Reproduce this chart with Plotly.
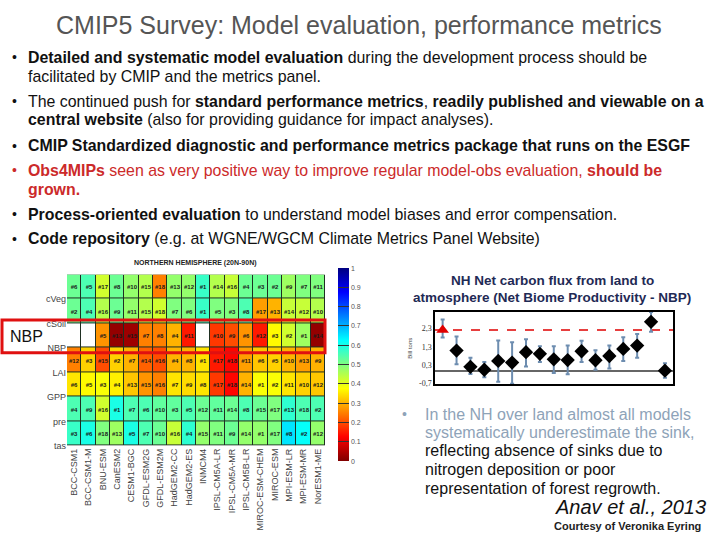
import plotly.graph_objects as go

# ---------------- data ----------------
models = ["BCC-CSM1", "BCC-CSM1-M", "BNU-ESM", "CanESM2", "CESM1-BGC", "GFDL-ESM2G",
          "GFDL-ESM2M", "HadGEM2-CC", "HadGEM2-ES", "INMCM4", "IPSL-CM5A-LR", "IPSL-CM5A-MR",
          "IPSL-CM5B-LR", "MIROC-ESM-CHEM", "MIROC-ESM", "MPI-ESM-LR", "MPI-ESM-MR", "NorESM1-ME"]
variables = ["cVeg", "cSoil", "NBP", "LAI", "GPP", "pre", "tas"]

score_cveg = [0.52, 0.55, 0.42, 0.52, 0.48, 0.45, 0.25, 0.48, 0.48, 0.57, 0.45, 0.43, 0.52, 0.52, 0.52, 0.47, 0.50, 0.50]
score_csoil = [0.52, 0.55, 0.45, 0.52, 0.48, 0.45, 0.42, 0.50, 0.50, 0.57, 0.50, 0.50, 0.55, 0.28, 0.30, 0.43, 0.43, 0.45]
score_nbp = [None, None, 0.27, 0.02, 0.03, 0.25, 0.25, 0.30, 0.15, None, 0.18, 0.20, 0.27, 0.15, 0.37, 0.42, 0.47, 0.02]
score_lai = [0.25, 0.33, 0.20, 0.33, 0.30, 0.22, 0.20, 0.30, 0.30, 0.35, 0.15, 0.13, 0.28, 0.32, 0.33, 0.30, 0.28, 0.30]
score_gpp = [0.35, 0.37, 0.38, 0.36, 0.32, 0.27, 0.25, 0.35, 0.34, 0.35, 0.18, 0.13, 0.30, 0.38, 0.38, 0.35, 0.33, 0.32]
score_pre = [0.55, 0.55, 0.42, 0.60, 0.55, 0.55, 0.53, 0.53, 0.55, 0.52, 0.53, 0.52, 0.55, 0.52, 0.50, 0.58, 0.55, 0.55]
score_tas = [0.57, 0.60, 0.50, 0.47, 0.60, 0.55, 0.52, 0.43, 0.58, 0.48, 0.50, 0.52, 0.48, 0.48, 0.50, 0.65, 0.62, 0.48]

rank_cveg = ["#6", "#5", "#17", "#8", "#10", "#15", "#18", "#13", "#12", "#1", "#14", "#16", "#4", "#3", "#2", "#9", "#7", "#11"]
rank_csoil = ["#2", "#4", "#16", "#9", "#11", "#15", "#18", "#7", "#6", "#1", "#5", "#3", "#8", "#17", "#13", "#14", "#12", "#10"]
rank_nbp = ["", "", "#5", "#13", "#15", "#7", "#8", "#4", "#11", "", "#10", "#9", "#6", "#12", "#3", "#2", "#1", "#14"]
rank_lai = ["#12", "#3", "#15", "#2", "#7", "#14", "#16", "#4", "#8", "#1", "#17", "#18", "#11", "#6", "#5", "#10", "#13", "#9"]
rank_gpp = ["#6", "#5", "#3", "#4", "#13", "#15", "#16", "#7", "#9", "#8", "#17", "#18", "#14", "#1", "#2", "#11", "#10", "#12"]
rank_pre = ["#4", "#9", "#16", "#1", "#7", "#6", "#10", "#3", "#5", "#12", "#11", "#14", "#8", "#15", "#17", "#13", "#18", "#2"]
rank_tas = ["#3", "#6", "#18", "#13", "#5", "#7", "#10", "#16", "#4", "#15", "#11", "#9", "#14", "#1", "#17", "#8", "#2", "#12"]

cbar_ticks = [0, 0.1, 0.2, 0.3, 0.4, 0.5, 0.6, 0.7, 0.8, 0.9, 1]

# NBP scatter (obs + 16 models)
obs_nbp = 2.22
obs_hi = 2.79
obs_lo = 1.81
nbp_mean = [1.10, 0.21, 0.05, 0.53, 0.44, 1.01, 0.92, 0.62, 0.58, 1.06, 0.57, 0.80, 1.19, 1.37, 2.67, 0.00]
nbp_hi = [1.87, 0.71, 0.48, 1.65, 1.55, 1.72, 1.33, 1.33, 1.37, 1.64, 1.12, 1.37, 1.83, 2.00, 3.20, 0.41]
nbp_lo = [0.35, -0.18, -0.36, -0.60, -0.72, 0.23, 0.48, -0.13, -0.20, 0.48, 0.05, 0.12, 0.53, 0.71, 2.13, -0.38]
nbp_ticks = [-0.7, 0.3, 1.3, 2.3]
nbp_ticktext = ["-0,7", "0,3", "1,3", "2,3"]

# ---------------- figure ----------------
W, H = 720, 540
def px(x):
    return x / W
def py(y):
    return 1 - y / H

z = [score_cveg, score_csoil, score_nbp, score_lai, score_gpp, score_pre, score_tas]
ranks = [rank_cveg, rank_csoil, rank_nbp, rank_lai, rank_gpp, rank_pre, rank_tas]
rows = list(range(len(variables)))
cols = list(range(len(models)))

jet_r = [[0.0, "rgb(128,0,0)"], [0.125, "rgb(255,0,0)"], [0.375, "rgb(255,255,0)"],
         [0.5, "rgb(128,255,128)"], [0.625, "rgb(0,255,255)"], [0.875, "rgb(0,0,255)"],
         [1.0, "rgb(0,0,128)"]]

fig = go.Figure()

# dark base layer (cell borders)
fig.add_trace(go.Heatmap(
    x=cols, y=rows, z=[[1] * len(models) for _ in rows],
    colorscale=[[0, "#1f2f22"], [1, "#1f2f22"]], showscale=False, hoverinfo="skip",
    xaxis="x", yaxis="y"))

fig.add_trace(go.Heatmap(
    x=cols, y=rows, z=z, text=ranks, texttemplate="<b>%{text}</b>",
    textfont=dict(size=6, color="#1a1a1a", family="Liberation Sans"),
    colorscale=jet_r, zmin=0, zmax=1, xgap=1, ygap=1,
    colorbar=dict(x=px(338), xanchor="left", xpad=0, ypad=0, y=py(368), yanchor="middle",
                  len=195 / H, lenmode="fraction", thickness=11, outlinewidth=0,
                  tickvals=cbar_ticks, ticktext=[str(t) for t in cbar_ticks],
                  ticks="inside", ticklen=11, tickcolor="#333",
                  tickfont=dict(size=7, color="#555", family="Liberation Sans")),
    xaxis="x", yaxis="y"))

# missing cells shown white
missing = [[1 if v is None else None for v in row] for row in z]
fig.add_trace(go.Heatmap(
    x=cols, y=rows, z=missing, colorscale=[[0, "white"], [1, "white"]],
    showscale=False, xgap=1, ygap=1, hoverinfo="skip", xaxis="x", yaxis="y"))

# NBP scatter
xi = list(range(1, len(nbp_mean) + 1))
fig.add_trace(go.Scatter(
    x=[0], y=[obs_nbp], mode="markers",
    marker=dict(symbol="triangle-up", size=11, color="#e00000"),
    error_y=dict(type="data", symmetric=False, array=[obs_hi - obs_nbp],
                 arrayminus=[obs_nbp - obs_lo], color="#6d8db0", thickness=2, width=2),
    xaxis="x2", yaxis="y2", showlegend=False))
fig.add_trace(go.Scatter(
    x=xi, y=nbp_mean, mode="markers",
    marker=dict(symbol="diamond", size=11, color="black"),
    error_y=dict(type="data", symmetric=False,
                 array=[h - m for h, m in zip(nbp_hi, nbp_mean)],
                 arrayminus=[m - l for m, l in zip(nbp_mean, nbp_lo)],
                 color="#6d8db0", thickness=2, width=2),
    xaxis="x2", yaxis="y2", showlegend=False))

fig.update_layout(
    width=W, height=H, margin=dict(l=0, r=0, t=0, b=0),
    paper_bgcolor="white", plot_bgcolor="white", showlegend=False,
    font=dict(family="Liberation Sans", color="#222"),
    xaxis=dict(domain=[px(67), px(325)], anchor="y", tickmode="array", tickvals=cols,
               ticktext=models, tickangle=-90, ticks="", showgrid=False, zeroline=False,
               tickfont=dict(size=9, color="#444", family="Liberation Sans"),
               range=[-0.5, len(models) - 0.5], showline=False),
    yaxis=dict(domain=[py(450), py(277)], anchor="x", tickmode="array",
               tickvals=[r + 0.5 for r in rows], ticktext=variables, ticks="",
               range=[len(variables) - 0.5, -0.5], showgrid=False, zeroline=False,
               tickfont=dict(size=9, color="#444", family="Liberation Sans")),
    xaxis2=dict(domain=[px(435), px(673)], anchor="y2", range=[-0.55, 16.58],
                showticklabels=False, ticks="", showgrid=False, zeroline=False,
                showline=True, linecolor="black", linewidth=1.5, mirror=True),
    yaxis2=dict(domain=[py(388), py(315)], anchor="x2", range=[-0.75, 3.2],
                tickmode="array", tickvals=nbp_ticks, ticktext=nbp_ticktext,
                showgrid=False, zeroline=True, zerolinecolor="#666", zerolinewidth=2,
                showline=True, linecolor="black", linewidth=1.5, mirror=True,
                tickfont=dict(size=8, color="#333", family="Liberation Serif"),
                title=dict(text="Bill tons", font=dict(size=6, color="#444"), standoff=6)),
)

# observed NBP reference line
fig.add_shape(type="line", xref="x2 domain", yref="y2", x0=0, x1=1, y0=obs_nbp, y1=obs_nbp,
              line=dict(color="#e00000", width=1.5, dash="dash"), layer="below")

# NBP highlight box
fig.add_shape(type="rect", xref="paper", yref="paper", x0=px(2), x1=px(325),
              y0=py(356), y1=py(323), line=dict(color="#e01010", width=3))

ann = []
def text(x, y, s, size=15, color="#111", xanchor="left", family="Liberation Sans"):
    ann.append(dict(x=px(x), y=py(y), xref="paper", yref="paper", text=s, showarrow=False,
                    xanchor=xanchor, yanchor="middle",
                    font=dict(size=size, color=color, family=family)))

text(359, 25, "CMIP5 Survey: Model evaluation, performance metrics", size=25,
     color="#555555", xanchor="center")

red = "#cc2a2a"
bx, tx = 10, 26
lines = [
    (58, "• ", "<b>Detailed and systematic model evaluation</b> during the development process should be", "#111"),
    (77, "", "facilitated by CMIP and the metrics panel.", "#111"),
    (102, "• ", "The continued push for <b>standard performance metrics</b>, <b>readily published and viewable on a</b>", "#111"),
    (121, "", "<b>central website</b> (also for providing guidance for impact analyses).", "#111"),
    (147, "• ", "<b>CMIP Standardized diagnostic and performance metrics package that runs on the ESGF</b>", "#111"),
    (172, "• ", "<b>Obs4MIPs</b> seen as very positive way to improve regular model-obs evaluation, <b>should be</b>", red),
    (191, "", "<b>grown.</b>", red),
    (216, "• ", "<b>Process-oriented evaluation</b> to understand model biases and error compensation.", "#111"),
    (241, "• ", "<b>Code repository</b> (e.g. at WGNE/WGCM Climate Metrics Panel Website)", "#111"),
]
for y, b, s, c in lines:
    if b:
        text(bx, y, "•", size=14, color=c)
    text(tx, y, s, size=15.9, color=c)

text(196, 265, "<b>NORTHERN HEMISPHERE (20N-90N)</b>", size=7, color="#222", xanchor="center")
text(8, 340, "NBP", size=16, color="#111")

text(552, 283, "<b>NH Net carbon flux from land to</b>", size=13.5, color="#1f2a55", xanchor="center")
text(552, 300, "<b>atmosphere (Net Biome Productivity - NBP)</b>", size=13.5, color="#1f2a55", xanchor="center")

blue_grey = "#8ea3b8"
text(400, 418, "•", size=14, color=blue_grey)
rlines = [(418, "In the NH over land almost all models", blue_grey),
          (437, "systematically underestimate the sink,", blue_grey),
          (455, "reflecting absence of sinks due to", "#111"),
          (474, "nitrogen deposition or poor", "#111"),
          (493, "representation of forest regrowth.", "#111")]
for y, s, c in rlines:
    text(423, y, s, size=16, color=c)

text(708, 512, "<i>Anav et al., 2013</i>", size=20, color="#111", xanchor="right")
text(703, 531, "<b>Courtesy of Veronika Eyring</b>", size=11, color="#222", xanchor="right")

fig.update_layout(annotations=ann)
fig.write_html("out.html", config={"displayModeBar": False},
               post_script="document.body.style.margin='0px';")
